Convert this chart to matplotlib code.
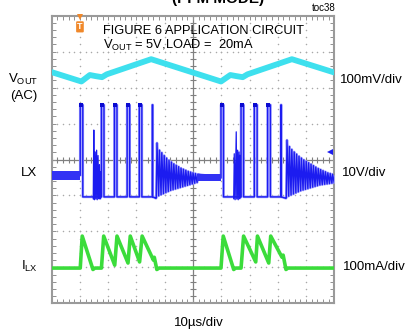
import numpy as np
import matplotlib
matplotlib.use('Agg')
import matplotlib.pyplot as plt

plt.rcParams['font.family'] = 'Liberation Sans'
plt.rcParams['mathtext.default'] = 'regular'

# scope screen: 10us/div, 10 x 8 divisions
x_range = (0, 100)   # us
n_ydiv = 8
# channel scale (units/div) and screen position of zero (div)
vout_scale, vout_zero = 100, 6.49   # mV/div
lx_scale, lx_zero = 10, 2.96        # V/div
ilx_scale, ilx_zero = 100, 0.98     # mA/div

# VOUT (AC coupled), mV
vout_t = [0, 10.5, 13.5, 15.5, 17.8, 19.5, 35.2, 59.9, 63.2, 65.3, 67.6, 69.3, 85.0, 100]
vout_mv = [-6, -32, -14, -17, -20, -12, 30, -32, -14, -17, -20, -12, 30, -7]

# LX, volts
lx_high = 25.6
lx_idle_a, lx_idle_a_noise = 6.0, 1.3
lx_idle_b, lx_idle_b_noise = 5.3, 1.0
burst1_on = [10.1, 17.6, 22.2, 26.7, 31.0, 35.6]
burst1_off = [11.0, 18.5, 23.1, 27.6, 31.9, 35.75]
burst2_on = [59.9, 67.0, 71.7, 76.4, 81.1]
burst2_off = [60.8, 67.9, 72.7, 77.4, 81.25]
# short ringing inside the bursts
ring_a_t = [14.7, 14.9, 15.1, 15.4, 15.6, 15.9, 16.1, 16.4, 16.6, 16.9, 17.1, 17.3, 17.5]
ring_a_v = [-0.5, 18.6, -0.8, 12.5, -0.6, 13.0, -0.8, 11.5, -0.5, 9.0, -0.6, 7.0, 0.0]
ring_b_t = [64.4, 64.6, 64.9, 65.3, 65.5, 65.8, 66.0, 66.3, 66.5, 66.7, 66.9]
ring_b_v = [-0.5, 12.0, -0.8, 18.1, -0.6, 13.0, -0.8, 12.5, -0.5, 11.6, 0.0]
# ringing after each burst (one top/bottom per cycle)
ring_period = 0.85
ring1_start = 37.0
ring1_tops = [15.0, 13.0, 12.3, 11.5, 10.8, 10.2, 9.7, 9.2, 8.8, 8.4, 8.0, 7.7, 7.4, 7.1, 6.9, 6.7, 6.5, 6.3]
ring1_bots = [-0.3, 0.3, 0.6, 0.9, 1.2, 1.5, 1.8, 2.0, 2.2, 2.4, 2.6, 2.8, 3.0, 3.2, 3.4, 3.6, 3.8, 4.0]
ring2_start = 83.0
ring2_tops = [15.8, 14.0, 13.2, 12.5, 11.9, 11.3, 10.8, 10.3, 9.9, 9.5, 9.1, 8.7, 8.3, 7.9, 7.6, 7.3, 7.0, 6.7, 6.5, 6.3, 6.1]
ring2_bots = [-0.3, 0.2, 0.5, 0.8, 1.1, 1.4, 1.7, 1.9, 2.1, 2.3, 2.5, 2.7, 2.9, 3.1, 3.3, 3.4, 3.5, 3.6, 3.7, 3.8, 3.8]
lx_marker_v = 12.5

# inductor current, mA
ilx_t = [0, 10.1, 10.8, 14.6, 15.3, 17.6, 18.4, 22.3, 23.1, 27.0, 27.8, 31.1, 32.0, 36.0, 36.3, 37.2, 38.0,
         59.9, 60.7, 64.4, 65.1, 67.0, 67.9, 72.2, 72.8, 76.8, 77.5, 81.5, 81.9, 82.9, 83.6, 100]
ilx_ma = [0, 0, 89, -4, 0, 0, 89, 8, 89, 14, 89, 17, 89, 22, 30, -4, 0,
          0, 89, -4, 0, 0, 89, 17, 89, 14, 89, 30, 36, -4, 0, 0]

CYAN = '#3ee0ee'
BLUE = '#1c1cf0'
LBLUE = '#a4a4ff'
GREEN = '#3bdc3b'
GRID = '#a8a8a8'


def pulses(on, off, first_level):
    t, v = [], []
    for a, b in zip(on, off):
        t += [a, a, b, b]
        v += [0, lx_high, lx_high, 0]
    v[0] = first_level
    return t, v


def ring(start, tops, bots):
    t, v = [], []
    for k, (hi, lo) in enumerate(zip(tops, bots)):
        t += [start + k * ring_period, start + (k + 0.3) * ring_period]
        v += [lo, hi]
    return t, v


def to_div(vals, zero, scale):
    return zero + np.asarray(vals, dtype=float) / scale


fig = plt.figure(figsize=(4.05, 3.34), dpi=100)
W, H = 405, 334
ax = fig.add_axes([51.7 / W, (H - 303.3) / H, 282.6 / W, 287.6 / H])
ax.set_xlim(*x_range)
ax.set_ylim(0, n_ydiv)

# graticule
for gx in range(10, 100, 10):
    if gx == 50:
        continue
    ys = np.arange(0, n_ydiv + 0.01, 0.2)
    ax.plot([gx] * len(ys), ys, ls='none', marker='o', ms=1.1, mew=0, color=GRID, zorder=1)
for gy in range(1, n_ydiv):
    if gy == 4:
        continue
    xs = np.arange(0, 100.1, 2)
    ax.plot(xs, [gy] * len(xs), ls='none', marker='o', ms=1.1, mew=0, color=GRID, zorder=1)
ax.axhline(4, color='#808080', lw=0.9, zorder=1)
ax.axvline(50, color='#808080', lw=0.9, zorder=1)
xs = np.arange(0, 100.1, 2)
ax.plot(xs, [4] * len(xs), ls='none', marker='|', ms=4, mew=0.8, color='#808080', zorder=1)
ys = np.arange(0, n_ydiv + 0.01, 0.2)
ax.plot([50] * len(ys), ys, ls='none', marker='_', ms=4, mew=0.8, color='#808080', zorder=1)

ax.set_xticks(np.arange(0, 100.1, 2))
ax.set_yticks(np.arange(0, n_ydiv + 0.01, 0.2))
ax.tick_params(direction='in', length=3, width=0.7, color='#909090', top=True, right=True,
               labelbottom=False, labelleft=False)
for s in ax.spines.values():
    s.set_color('#9a9a9a')
    s.set_linewidth(1.5)

# VOUT
ax.plot(vout_t, to_div(vout_mv, vout_zero, vout_scale), color=CYAN, lw=4.2, zorder=3,
        solid_joinstyle='round')

# LX
t1, v1 = pulses(burst1_on, burst1_off, lx_idle_a)
r1t, r1v = ring(ring1_start, ring1_tops, ring1_bots)
t2, v2 = pulses(burst2_on, burst2_off, lx_idle_b)
r2t, r2v = ring(ring2_start, ring2_tops, ring2_bots)
lx_t = [0] + t1 + [ring1_start - 0.1] + r1t + t2 + [ring2_start - 0.1] + r2t
lx_v = [lx_idle_a] + v1 + [-0.4] + r1v + v2 + [-0.4] + r2v
lx_y = to_div(lx_v, lx_zero, lx_scale)

r1c = [ring1_start + k * ring_period for k in range(len(ring1_tops))]
r2c = [ring2_start + k * ring_period for k in range(len(ring2_tops))]
ax.plot(lx_t, lx_y, color=LBLUE, lw=1.9, zorder=2.5)
ax.fill_between(r1c, to_div(ring1_bots, lx_zero, lx_scale), to_div(ring1_tops, lx_zero, lx_scale),
                color=LBLUE, lw=0, zorder=3)
ax.fill_between(r2c, to_div(ring2_bots, lx_zero, lx_scale), to_div(ring2_tops, lx_zero, lx_scale),
                color=LBLUE, lw=0, zorder=3)
ax.fill_between(ring_a_t, lx_zero - 0.05, to_div(ring_a_v, lx_zero, lx_scale), color=LBLUE, lw=0, zorder=3)
ax.fill_between(ring_b_t, lx_zero - 0.05, to_div(ring_b_v, lx_zero, lx_scale), color=LBLUE, lw=0, zorder=3)

ax.plot(lx_t, lx_y, color=BLUE, lw=1.0, zorder=4)
ax.fill_between([0, burst1_on[0]], lx_zero + (lx_idle_a - lx_idle_a_noise) / lx_scale,
                lx_zero + (lx_idle_a + lx_idle_a_noise) / lx_scale, color='#3232f4', lw=0, zorder=4.5)
ax.fill_between([r1c[-1], burst2_on[0]], lx_zero + (lx_idle_b - lx_idle_b_noise) / lx_scale,
                lx_zero + (lx_idle_b + lx_idle_b_noise) / lx_scale, color='#3232f4', lw=0, zorder=4.5)
ax.plot(ring_a_t, to_div(ring_a_v, lx_zero, lx_scale), color=BLUE, lw=0.9, zorder=4)
ax.plot(ring_b_t, to_div(ring_b_v, lx_zero, lx_scale), color=BLUE, lw=0.9, zorder=4)
tops_on = burst1_on[:-1] + burst2_on[:-1]
ax.plot(np.array(tops_on) + 0.25, [lx_zero + lx_high / lx_scale] * len(tops_on), ls='none',
        marker='s', ms=2.6, mew=0, color='#0a0ad0', zorder=5)
ax.plot(98.5, lx_zero + lx_marker_v / lx_scale, marker='<', ms=5, color=BLUE, mew=0, zorder=5)

# ILX
ax.plot(ilx_t, to_div(ilx_ma, ilx_zero, ilx_scale), color=GREEN, lw=2.6, zorder=3,
        solid_joinstyle='round')

# trigger marker
ax.plot(10.0, n_ydiv - 0.03, marker='v', ms=4, color='#f0882a', mew=0, clip_on=False, zorder=6)
ax.text(10.0, 7.69, 'T', ha='center', va='center', fontsize=6.5, color='white', fontweight='bold',
        bbox=dict(boxstyle='round,pad=0.12', fc='#f0882a', ec='none'), zorder=6)


def fx(px):
    return px / W


def fy(py):
    return 1 - py / H


fig.text(fx(218), fy(3.5), '(PFM MODE)', ha='center', va='baseline', fontsize=11, fontweight='bold')
fig.text(fx(336), fy(11), 'toc38', ha='right', va='baseline', fontsize=7)
fig.text(fx(103), fy(34), 'FIGURE 6 APPLICATION CIRCUIT', ha='left', va='baseline', fontsize=9.3)
fig.text(fx(103), fy(49), r'V$_{OUT}$ = 5V,LOAD =  20mA', ha='left', va='baseline', fontsize=9.3)

fig.text(fx(38), fy(82.5), r'V$_{OUT}$', ha='right', va='baseline', fontsize=9.5)
fig.text(fx(37), fy(96), '(AC)', ha='right', va='center', fontsize=9.5)
fig.text(fx(37), fy(172.5), 'LX', ha='right', va='center', fontsize=9.5)
fig.text(fx(37.5), fy(270), r'I$_{LX}$', ha='right', va='baseline', fontsize=9.5)

fig.text(fx(340), fy(83), '100mV/div', ha='left', va='baseline', fontsize=9.5)
fig.text(fx(342), fy(176.5), '10V/div', ha='left', va='baseline', fontsize=9.5)
fig.text(fx(343), fy(270), '100mA/div', ha='left', va='baseline', fontsize=9.5)
fig.text(fx(199), fy(326), '10\u00b5s/div', ha='center', va='baseline', fontsize=9.5)

plt.savefig('out.png', dpi=100)
